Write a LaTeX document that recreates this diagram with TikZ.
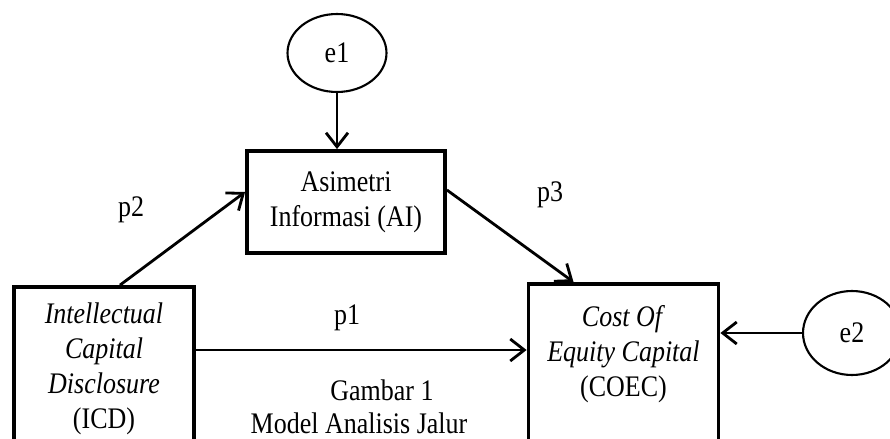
\documentclass[tikz,border=0pt]{standalone}
\usepackage{fontspec}
\setmainfont[FakeStretch=0.87]{Liberation Serif}
\usetikzlibrary{arrows.meta,shapes.geometric}
\def\pathfont{\fontsize{17pt}{20pt}\selectfont}

\begin{document}
\begin{tikzpicture}[x=0.02cm, y=-0.02cm,
		every node/.style={font=\pathfont},
		box/.style={draw, line width=2.2pt, align=center, inner sep=0pt},
		err/.style={draw, ellipse, line width=1.2pt, inner sep=0pt},
		txt/.style={align=center, inner sep=0pt},
		arr/.style={line width=1.6pt, -{Straight Barb[length=8pt,width=12.5pt,line width=1.6pt]}}]
		%%%%% START %%%%%
		
		\useasboundingbox (0, 0) rectangle (890, 439);
		\clip (0, 0) rectangle (890, 439);
		
		\node[err, minimum width=1.98cm, minimum height=1.56cm] (e1) at (337, 53) {e1};
		\node[box, minimum width=3.96cm, minimum height=2.04cm] (ai) at (346, 202) {Asimetri\\Informasi (AI)};
		
		\node[box, minimum width=3.6cm, minimum height=3.28cm] (icd) at (104, 369)
			{\textit{Intellectual}\\\textit{Capital}\\\textit{Disclosure}\\(ICD)};
		
		\node[box, minimum width=3.8cm, minimum height=4cm, anchor=north] (coec) at (623.5, 282) {};
		\node[txt] (coectxt) at (623.5, 354) {\textit{Cost Of}\\\textit{Equity Capital}\\(COEC)};
		
		\node[err, minimum width=1.96cm, minimum height=1.68cm] (e2) at (852, 333) {e2};
		
		\draw[arr] (e1.south) -- (e1.south |- ai.north);
		\draw[arr] ([xshift=0.32cm]icd.north) -- ([yshift=0.2cm]ai.west);
		\draw[arr] ([yshift=0.24cm]ai.east) -- ([xshift=-1.0cm]coec.north);
		\draw[arr] ([yshift=0.38cm]icd.east) coordinate (p1s) -- (p1s -| coec.west);
		\draw[arr] (e2.west) -- (e2.west -| coec.east);
		
		\node[txt] (p1) at (347, 318) {p1};
		\node[txt] (p2) at (131, 210) {p2};
		\node[txt] (p3) at (550, 195) {p3};
		
		\node[txt, anchor=base] (gbr) at (382, 400) {Gambar 1};
		\node[txt, anchor=base] (model) at (359, 433) {Model Analisis Jalur};
		
		%%%%% END %%%%%
\end{tikzpicture}
\end{document}
